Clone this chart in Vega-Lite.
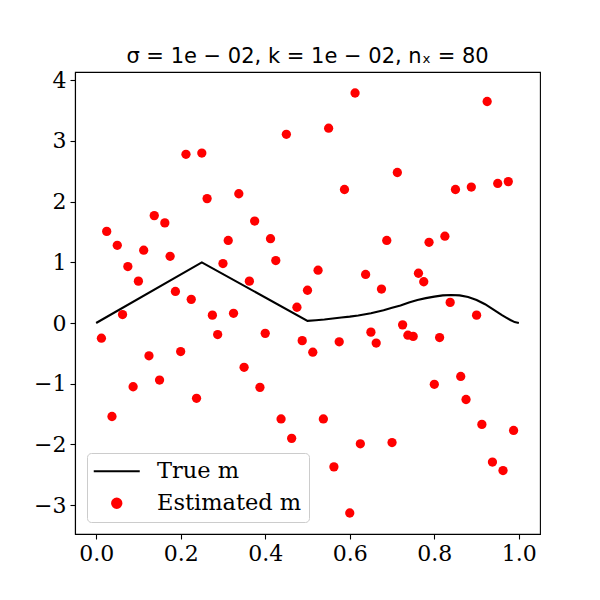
{
  "$schema": "https://vega.github.io/schema/vega-lite/v6.json",
  "width": 465,
  "height": 462,
  "autosize": {"type": "none"},
  "padding": {"left": 75, "top": 72, "right": 60, "bottom": 66},
  "background": "white",
  "title": {
    "text": "σ = 1e − 02, k = 1e − 02, nₓ = 80",
    "font": "DejaVu Sans",
    "fontSize": 21,
    "fontWeight": "normal",
    "color": "black",
    "frame": "group",
    "anchor": "middle",
    "baseline": "alphabetic",
    "offset": -15
  },
  "datasets": {
    "truem": [
      {"x": 0, "m": 0, "series": "True m"},
      {"x": 0.25, "m": 1, "series": "True m"},
      {"x": 0.5, "m": 0.035, "series": "True m"},
      {"x": 0.52, "m": 0.045, "series": "True m"},
      {"x": 0.54, "m": 0.058, "series": "True m"},
      {"x": 0.56, "m": 0.075, "series": "True m"},
      {"x": 0.58, "m": 0.09, "series": "True m"},
      {"x": 0.6, "m": 0.105, "series": "True m"},
      {"x": 0.62, "m": 0.125, "series": "True m"},
      {"x": 0.65, "m": 0.16, "series": "True m"},
      {"x": 0.68, "m": 0.21, "series": "True m"},
      {"x": 0.7, "m": 0.25, "series": "True m"},
      {"x": 0.72, "m": 0.29, "series": "True m"},
      {"x": 0.74, "m": 0.34, "series": "True m"},
      {"x": 0.76, "m": 0.38, "series": "True m"},
      {"x": 0.78, "m": 0.41, "series": "True m"},
      {"x": 0.8, "m": 0.435, "series": "True m"},
      {"x": 0.82, "m": 0.455, "series": "True m"},
      {"x": 0.84, "m": 0.462, "series": "True m"},
      {"x": 0.86, "m": 0.455, "series": "True m"},
      {"x": 0.88, "m": 0.43, "series": "True m"},
      {"x": 0.9, "m": 0.38, "series": "True m"},
      {"x": 0.92, "m": 0.31, "series": "True m"},
      {"x": 0.94, "m": 0.22, "series": "True m"},
      {"x": 0.96, "m": 0.13, "series": "True m"},
      {"x": 0.97, "m": 0.09, "series": "True m"},
      {"x": 0.98, "m": 0.05, "series": "True m"},
      {"x": 0.99, "m": 0.015, "series": "True m"},
      {"x": 1.0, "m": 0, "series": "True m"}
    ],
    "estm": [
      {"x": 0.0125, "m": -0.25, "series": "Estimated m"},
      {"x": 0.025, "m": 1.51, "series": "Estimated m"},
      {"x": 0.0375, "m": -1.54, "series": "Estimated m"},
      {"x": 0.05, "m": 1.28, "series": "Estimated m"},
      {"x": 0.0625, "m": 0.14, "series": "Estimated m"},
      {"x": 0.075, "m": 0.93, "series": "Estimated m"},
      {"x": 0.0875, "m": -1.05, "series": "Estimated m"},
      {"x": 0.1, "m": 0.69, "series": "Estimated m"},
      {"x": 0.1125, "m": 1.2, "series": "Estimated m"},
      {"x": 0.125, "m": -0.54, "series": "Estimated m"},
      {"x": 0.1375, "m": 1.77, "series": "Estimated m"},
      {"x": 0.15, "m": -0.94, "series": "Estimated m"},
      {"x": 0.1625, "m": 1.65, "series": "Estimated m"},
      {"x": 0.175, "m": 1.1, "series": "Estimated m"},
      {"x": 0.1875, "m": 0.52, "series": "Estimated m"},
      {"x": 0.2, "m": -0.47, "series": "Estimated m"},
      {"x": 0.2125, "m": 2.78, "series": "Estimated m"},
      {"x": 0.225, "m": 0.39, "series": "Estimated m"},
      {"x": 0.2375, "m": -1.24, "series": "Estimated m"},
      {"x": 0.25, "m": 2.8, "series": "Estimated m"},
      {"x": 0.2625, "m": 2.05, "series": "Estimated m"},
      {"x": 0.275, "m": 0.13, "series": "Estimated m"},
      {"x": 0.2875, "m": -0.19, "series": "Estimated m"},
      {"x": 0.3, "m": 0.98, "series": "Estimated m"},
      {"x": 0.3125, "m": 1.36, "series": "Estimated m"},
      {"x": 0.325, "m": 0.16, "series": "Estimated m"},
      {"x": 0.3375, "m": 2.13, "series": "Estimated m"},
      {"x": 0.35, "m": -0.73, "series": "Estimated m"},
      {"x": 0.3625, "m": 0.69, "series": "Estimated m"},
      {"x": 0.375, "m": 1.68, "series": "Estimated m"},
      {"x": 0.3875, "m": -1.06, "series": "Estimated m"},
      {"x": 0.4, "m": -0.17, "series": "Estimated m"},
      {"x": 0.4125, "m": 1.39, "series": "Estimated m"},
      {"x": 0.425, "m": 1.03, "series": "Estimated m"},
      {"x": 0.4375, "m": -1.58, "series": "Estimated m"},
      {"x": 0.45, "m": 3.11, "series": "Estimated m"},
      {"x": 0.4625, "m": -1.9, "series": "Estimated m"},
      {"x": 0.475, "m": 0.26, "series": "Estimated m"},
      {"x": 0.4875, "m": -0.29, "series": "Estimated m"},
      {"x": 0.5, "m": 0.54, "series": "Estimated m"},
      {"x": 0.5125, "m": -0.48, "series": "Estimated m"},
      {"x": 0.525, "m": 0.87, "series": "Estimated m"},
      {"x": 0.5375, "m": -1.58, "series": "Estimated m"},
      {"x": 0.55, "m": 3.21, "series": "Estimated m"},
      {"x": 0.5625, "m": -2.37, "series": "Estimated m"},
      {"x": 0.575, "m": -0.31, "series": "Estimated m"},
      {"x": 0.5875, "m": 2.2, "series": "Estimated m"},
      {"x": 0.6, "m": -3.13, "series": "Estimated m"},
      {"x": 0.6125, "m": 3.79, "series": "Estimated m"},
      {"x": 0.625, "m": -1.99, "series": "Estimated m"},
      {"x": 0.6375, "m": 0.8, "series": "Estimated m"},
      {"x": 0.65, "m": -0.15, "series": "Estimated m"},
      {"x": 0.6625, "m": -0.33, "series": "Estimated m"},
      {"x": 0.675, "m": 0.56, "series": "Estimated m"},
      {"x": 0.6875, "m": 1.36, "series": "Estimated m"},
      {"x": 0.7, "m": -1.97, "series": "Estimated m"},
      {"x": 0.7125, "m": 2.48, "series": "Estimated m"},
      {"x": 0.725, "m": -0.03, "series": "Estimated m"},
      {"x": 0.7375, "m": -0.2, "series": "Estimated m"},
      {"x": 0.75, "m": -0.22, "series": "Estimated m"},
      {"x": 0.7625, "m": 0.82, "series": "Estimated m"},
      {"x": 0.775, "m": 0.68, "series": "Estimated m"},
      {"x": 0.7875, "m": 1.33, "series": "Estimated m"},
      {"x": 0.8, "m": -1.01, "series": "Estimated m"},
      {"x": 0.8125, "m": -0.24, "series": "Estimated m"},
      {"x": 0.825, "m": 1.43, "series": "Estimated m"},
      {"x": 0.8375, "m": 0.34, "series": "Estimated m"},
      {"x": 0.85, "m": 2.2, "series": "Estimated m"},
      {"x": 0.8625, "m": -0.88, "series": "Estimated m"},
      {"x": 0.875, "m": -1.26, "series": "Estimated m"},
      {"x": 0.8875, "m": 2.24, "series": "Estimated m"},
      {"x": 0.9, "m": 0.13, "series": "Estimated m"},
      {"x": 0.9125, "m": -1.67, "series": "Estimated m"},
      {"x": 0.925, "m": 3.65, "series": "Estimated m"},
      {"x": 0.9375, "m": -2.29, "series": "Estimated m"},
      {"x": 0.95, "m": 2.3, "series": "Estimated m"},
      {"x": 0.9625, "m": -2.43, "series": "Estimated m"},
      {"x": 0.975, "m": 2.33, "series": "Estimated m"},
      {"x": 0.9875, "m": -1.77, "series": "Estimated m"}
    ]
  },
  "encoding": {
    "x": {
      "field": "x",
      "type": "quantitative",
      "scale": {"domain": [-0.05, 1.05], "nice": false, "zero": false},
      "axis": {"title": null, "values": [0, 0.2, 0.4, 0.6, 0.8, 1.0], "format": ".1f"}
    },
    "y": {
      "field": "m",
      "type": "quantitative",
      "scale": {"domain": [-3.476, 4.136], "nice": false, "zero": false},
      "axis": {"title": null, "values": [-3, -2, -1, 0, 1, 2, 3, 4], "format": "d"}
    },
    "color": {
      "field": "series",
      "type": "nominal",
      "scale": {"domain": ["True m", "Estimated m"], "range": ["black", "red"]},
      "legend": {
        "title": null,
        "orient": "none",
        "legendX": 12,
        "legendY": 381,
        "labelFont": "DejaVu Serif",
        "labelFontSize": 22.5,
        "labelColor": "black",
        "labelOffset": 29,
        "symbolSize": 2116,
        "symbolOffset": 11.5,
        "symbolStrokeWidth": 2,
        "padding": 7,
        "rowPadding": 9,
        "strokeColor": "#cccccc",
        "fillColor": "rgba(255,255,255,0.8)",
        "cornerRadius": 4,
        "encode": {
          "symbols": {
            "update": {
              "shape": {"signal": "datum.value === 'True m' ? 'stroke' : 'circle'"},
              "size": {"signal": "datum.value === 'True m' ? 2116 : 86"},
              "fill": {"signal": "datum.value === 'True m' ? 'transparent' : 'red'"},
              "stroke": {"signal": "datum.value === 'True m' ? 'black' : 'transparent'"},
              "strokeWidth": {"value": 2.1},
              "opacity": {"value": 1}
            }
          }
        }
      }
    }
  },
  "layer": [
    {
      "data": {"name": "truem"},
      "mark": {"type": "line", "strokeWidth": 2.1}
    },
    {
      "data": {"name": "estm"},
      "mark": {"type": "point", "filled": true, "shape": "circle", "size": 86, "opacity": 1}
    }
  ],
  "config": {
    "view": {"stroke": "black", "strokeWidth": 1.1},
    "axis": {
      "grid": false,
      "domainColor": "black",
      "domainWidth": 1.1,
      "tickColor": "black",
      "tickWidth": 1.1,
      "tickSize": 5,
      "labelFont": "DejaVu Serif",
      "labelFontSize": 22,
      "labelColor": "black",
      "labelPadding": 4
    }
  }
}
